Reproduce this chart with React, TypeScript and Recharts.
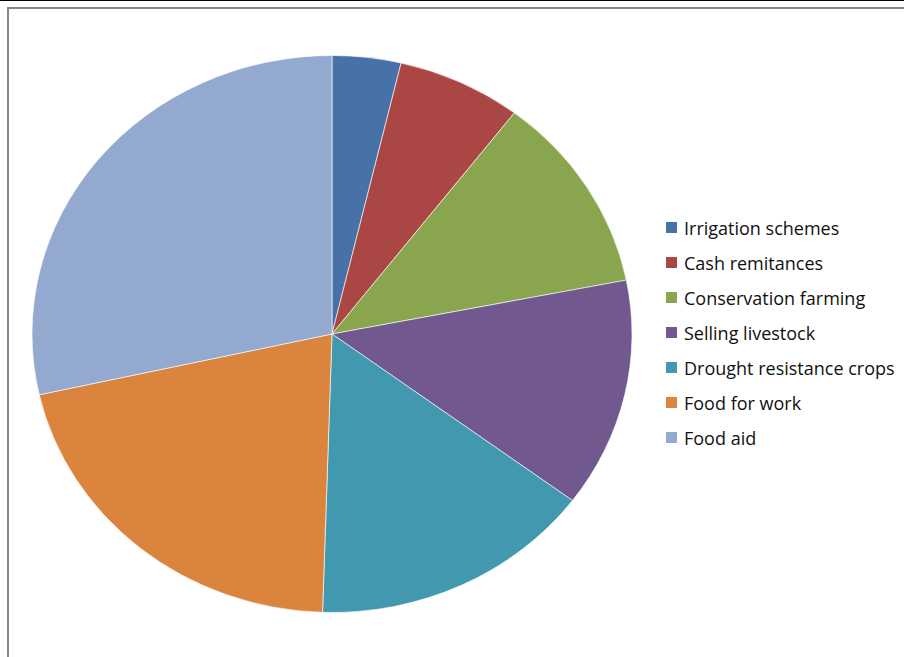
import React from "react";
import { PieChart, Pie, Cell, Legend } from "recharts";

const categories = [
  "Irrigation schemes",
  "Cash remitances",
  "Conservation farming",
  "Selling livestock",
  "Drought resistance crops",
  "Food for work",
  "Food aid",
];
// shares in percent
const values = [3.7, 6.7, 11.5, 13.3, 15.3, 21.0, 28.5];
const colors = ["#4672A8", "#AA4744", "#89A54E", "#71588F", "#4198AF", "#DB843D", "#93A9CF"];

const data = categories.map((name, i) => ({ name, value: values[i] }));

// Excel drew the pie slightly wider than tall
const CX = 332;
const CY = 334;
const R = 278.5;
const STRETCH = 300 / 278.5;

// legend keeps the series order instead of sorting
function LegendList() {
  return (
    <ul style={{ listStyle: "none", margin: 0, padding: 0 }}>
      {categories.map((name, i) => (
        <li key={name} style={{ display: "flex", alignItems: "center", height: 35 }}>
          <span
            style={{
              display: "inline-block",
              width: 11,
              height: 11,
              background: colors[i],
              marginRight: 7,
            }}
          />
          <span style={{ fontSize: 18, color: "#111" }}>{name}</span>
        </li>
      ))}
    </ul>
  );
}

export default function App() {
  return (
    <div
      style={{
        position: "absolute",
        left: 0,
        top: 0,
        width: 904,
        height: 657,
        background: "#fff",
        overflow: "hidden",
        fontFamily: "'Open Sans', 'Noto Sans', sans-serif",
      }}
    >
      <style>{`
        .recharts-pie {
          transform-box: view-box;
          transform-origin: ${CX}px ${CY}px;
          transform: scaleX(${STRETCH});
        }
      `}</style>
      <div style={{ position: "absolute", left: 0, top: 0, width: 904, height: 1, background: "#000" }} />
      <div style={{ position: "absolute", left: 7, top: 7, width: 897, height: 2, background: "#868686" }} />
      <div style={{ position: "absolute", left: 7, top: 7, width: 2, height: 650, background: "#868686" }} />
      <PieChart
        width={904}
        height={657}
        margin={{ top: 0, right: 0, bottom: 0, left: 0 }}
        style={{ position: "absolute", left: 0, top: 0 }}
      >
        <Pie
          data={data}
          dataKey="value"
          nameKey="name"
          cx={CX}
          cy={CY}
          outerRadius={R}
          startAngle={90}
          endAngle={-270}
          stroke="#ffffff"
          strokeWidth={0.6}
          isAnimationActive={false}
        >
          {data.map((d, i) => (
            <Cell key={d.name} fill={colors[i]} />
          ))}
        </Pie>
        <Legend
          layout="vertical"
          content={<LegendList />}
          wrapperStyle={{ left: 666, top: 210, width: 236 }}
        />
      </PieChart>
    </div>
  );
}
